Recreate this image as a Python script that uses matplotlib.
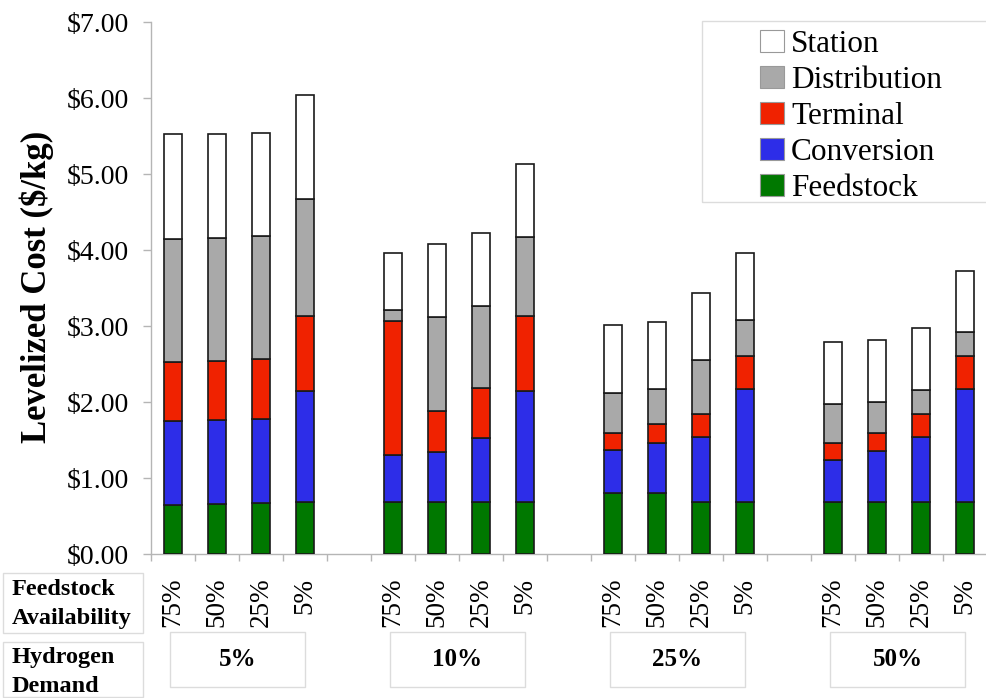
import matplotlib
matplotlib.use('Agg')
import matplotlib.pyplot as plt
import matplotlib.transforms as mtransforms
from matplotlib.patches import Patch, Rectangle
import numpy as np

plt.rcParams['font.family'] = ['Liberation Serif', 'DejaVu Serif']

# hydrogen demand groups and feedstock availability per bar
demand = ['5%', '10%', '25%', '50%']
availability = ['75%', '50%', '25%', '5%']

# cost components ($/kg), 4 bars per demand level
feedstock = [0.64, 0.66, 0.67, 0.68,
             0.69, 0.68, 0.68, 0.68,
             0.80, 0.80, 0.68, 0.68,
             0.68, 0.68, 0.68, 0.68]
conversion = [1.11, 1.10, 1.11, 1.47,
              0.61, 0.66, 0.85, 1.47,
              0.57, 0.66, 0.86, 1.49,
              0.56, 0.67, 0.86, 1.49]
terminal = [0.78, 0.78, 0.78, 0.98,
            1.76, 0.54, 0.65, 0.98,
            0.22, 0.25, 0.30, 0.44,
            0.22, 0.24, 0.30, 0.44]
distribution = [1.62, 1.62, 1.62, 1.54,
                0.15, 1.24, 1.08, 1.04,
                0.53, 0.46, 0.71, 0.47,
                0.51, 0.41, 0.32, 0.31]
station = [1.37, 1.37, 1.36, 1.37,
           0.75, 0.96, 0.96, 0.96,
           0.89, 0.88, 0.88, 0.88,
           0.82, 0.82, 0.81, 0.81]

series = [('Feedstock', feedstock, '#007800'),
          ('Conversion', conversion, '#2d2de8'),
          ('Terminal', terminal, '#f02200'),
          ('Distribution', distribution, '#a9a9a9'),
          ('Station', station, '#ffffff')]

# one empty slot between demand groups
xpos = np.array([g * 5 + i for g in range(len(demand)) for i in range(len(availability))])

fig = plt.figure(figsize=(9.86, 6.98), dpi=100)
ax = fig.add_axes([151 / 986, 1 - 554 / 698, 836 / 986, 532 / 698])

bottom = np.zeros(len(xpos))
for name, vals, col in series:
    vals = np.array(vals)
    ax.bar(xpos, vals, width=0.43, bottom=bottom, color=col,
           edgecolor='#1a1a1a', linewidth=1.2, label=name, zorder=3)
    bottom += vals

ax.set_xlim(-0.5, 18.5)
ax.set_ylim(0, 7)
ax.set_yticks(np.arange(0, 8, 1))
ax.set_yticklabels(['${:.2f}'.format(v) for v in range(8)], fontsize=20)
ax.tick_params(axis='y', length=6, width=1, color='#b5b5b5', pad=10)

# major ticks between slots, labels on minor ticks at bar centres
ax.set_xticks(np.arange(-0.5, 19, 1))
ax.set_xticklabels([])
ax.tick_params(axis='x', which='major', length=5, width=1, color='#b5b5b5')
ax.set_xticks(xpos, minor=True)
ax.set_xticklabels(availability * len(demand), minor=True, rotation=90,
                   fontsize=19.5, va='top')
ax.tick_params(axis='x', which='minor', length=0, pad=17)

for s in ['top', 'right']:
    ax.spines[s].set_visible(False)
for s in ['left', 'bottom']:
    ax.spines[s].set_color('#b5b5b5')
    ax.spines[s].set_linewidth(1)

fig.text(37 / 986, 1 - 287 / 698, 'Levelized Cost ($/kg)', rotation=90,
         ha='center', va='center', fontsize=25, fontweight='bold')

# row headings under the axis
box_col = '#dcdcdc'
fig.patches.append(Rectangle((3 / 986, 1 - 633 / 698), 140 / 986, 60 / 698,
                             transform=fig.transFigure, fill=False,
                             edgecolor=box_col, linewidth=1))
fig.patches.append(Rectangle((3 / 986, 1 - 697 / 698), 140 / 986, 55 / 698,
                             transform=fig.transFigure, fill=False,
                             edgecolor=box_col, linewidth=1))
fig.text(12 / 986, 1 - 604 / 698, 'Feedstock\nAvailability', ha='left',
         va='center', fontsize=17.5, fontweight='bold', linespacing=1.45)
fig.text(12 / 986, 1 - 672 / 698, 'Hydrogen\nDemand', ha='left',
         va='center', fontsize=17.5, fontweight='bold', linespacing=1.45)

# demand boxes spanning each group
trans = mtransforms.blended_transform_factory(ax.transData, ax.transAxes)
y0 = (554 - 687) / 532
y1 = (554 - 632) / 532
for g, lab in enumerate(demand):
    x0 = xpos[g * 4] - 0.07
    ax.add_patch(Rectangle((x0, y0), 3.07, y1 - y0, transform=trans,
                           fill=False, edgecolor=box_col, linewidth=1,
                           clip_on=False))
    ax.text(x0 + 1.535, (y0 + y1) / 2, lab, transform=trans, ha='center',
            va='center', fontsize=18, fontweight='bold')

# legend, top entry first
handles = [Patch(facecolor=c, edgecolor='#999999', linewidth=0.8, label=n)
           for n, v, c in series[::-1]]
fig.patches.append(Rectangle((702 / 986, 1 - 202 / 698), 300 / 986, 181 / 698,
                             transform=fig.transFigure, fill=False,
                             edgecolor=box_col, linewidth=1))
fig.legend(handles=handles, loc='upper left',
           bbox_to_anchor=(760 / 986, 1 - 30 / 698), frameon=False,
           fontsize=22.5, handlelength=0.77, handleheight=0.7,
           handletextpad=0.22, labelspacing=0.22, borderpad=0,
           borderaxespad=0)

fig.savefig('out.png', dpi=100)
